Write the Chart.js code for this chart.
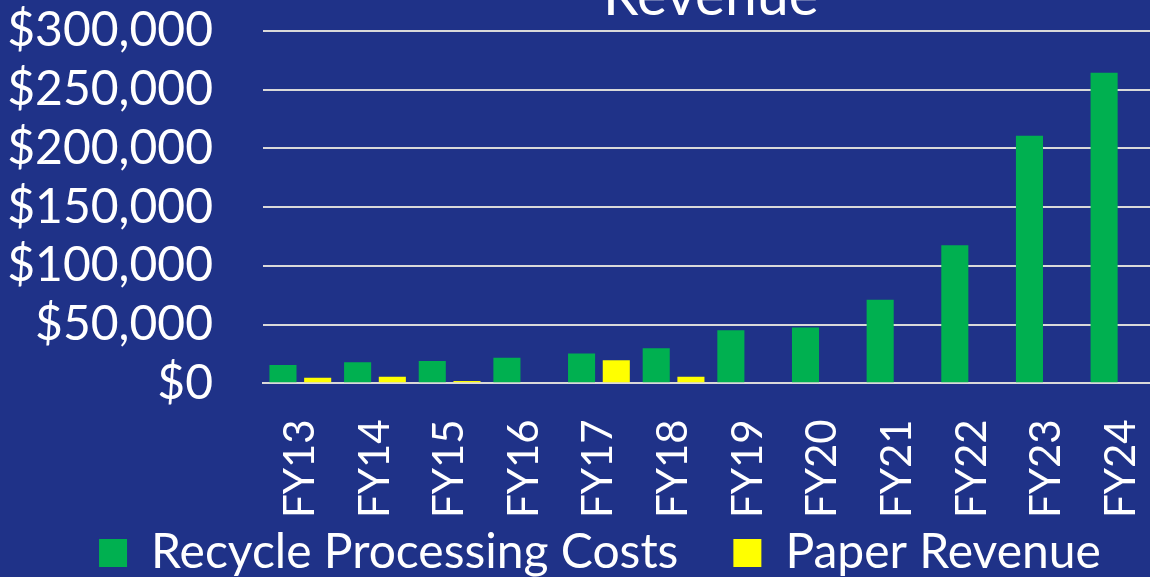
<!DOCTYPE html>
<html>
<head>
<meta charset="utf-8">
<script src="https://cdn.jsdelivr.net/npm/chart.js@4"></script>
<style>
  html, body { margin: 0; padding: 0; background: #1F3288; overflow: hidden; width: 1150px; height: 577px; }
  /* canvas is a bit larger than the page so the title is cut at the top like the original */
  #wrap { position: absolute; left: 0; top: -48px; width: 1210px; height: 715px; }
</style>
</head>
<body>
<div id="wrap"><canvas id="chart"></canvas></div>
<script>
// Data
const fiscalYears = ['FY13', 'FY14', 'FY15', 'FY16', 'FY17', 'FY18', 'FY19', 'FY20', 'FY21', 'FY22', 'FY23', 'FY24'];
const recycleCosts = [15600, 17900, 19000, 21800, 25300, 29900, 45200, 47400, 71200, 117500, 210600, 264200];
const paperRevenue = [4800, 5600, 2000, null, 19600, 5600, null, null, null, null, null, null];
const yTicks = [0, 50000, 100000, 150000, 200000, 250000, 300000];

const textColor = '#FFFFFF';
const fontFamily = 'Lato, "Open Sans", sans-serif';

// legend padding is big (wide gap between the two items), so pull it back up under the labels
const legendLift = {
    id: 'legendLift',
    afterLayout(chart) {
        chart.legend.top -= 80;
        chart.legend.bottom -= 80;
        chart.legend.left -= 5;
        chart.legend.right -= 5;
    }
};

const ctx = document.getElementById('chart');
new Chart(ctx, {
    type: 'bar',
    data: {
        labels: fiscalYears,
        datasets: [
            {
                label: 'Recycle Processing Costs',
                data: recycleCosts,
                backgroundColor: '#00B050',
                borderWidth: 0
            },
            {
                label: 'Paper Revenue',
                data: paperRevenue,
                backgroundColor: '#FFFF00',
                borderWidth: 0
            }
        ]
    },
    options: {
        responsive: true,
        maintainAspectRatio: false,
        animation: false,
        datasets: {
            bar: {
                categoryPercentage: 0.93,
                barPercentage: 0.78
            }
        },
        layout: {
            padding: 0
        },
        plugins: {
            title: {
                display: true,
                text: 'Revenue',
                color: textColor,
                fullSize: false,
                font: { family: fontFamily, size: 57, weight: 'normal' },
                padding: { top: 0, bottom: 0 }
            },
            legend: {
                position: 'bottom',
                labels: {
                    color: textColor,
                    font: { family: fontFamily, size: 48 },
                    boxWidth: 28,
                    boxHeight: 28,
                    padding: 55
                }
            },
            tooltip: { enabled: false }
        },
        scales: {
            x: {
                grid: { display: false, drawTicks: false },
                border: { display: true, color: '#D9D9D9', width: 2 },
                ticks: {
                    color: textColor,
                    font: { family: fontFamily, size: 42 },
                    minRotation: 90,
                    maxRotation: 90,
                    autoSkip: false,
                    padding: 36
                }
            },
            y: {
                min: 0,
                max: 300000,
                afterBuildTicks: (axis) => {
                    axis.ticks = yTicks.map(v => ({ value: v }));
                },
                afterFit: (axis) => { axis.width = 263; },
                grid: { color: '#D9D9D9', lineWidth: 2, drawTicks: false },
                border: { display: false },
                ticks: {
                    color: textColor,
                    font: { family: fontFamily, size: 48 },
                    autoSkip: false,
                    padding: 50,
                    callback: (v) => '$' + Number(v).toLocaleString('en-US')
                }
            }
        }
    },
    plugins: [legendLift]
});
</script>
</body>
</html>
